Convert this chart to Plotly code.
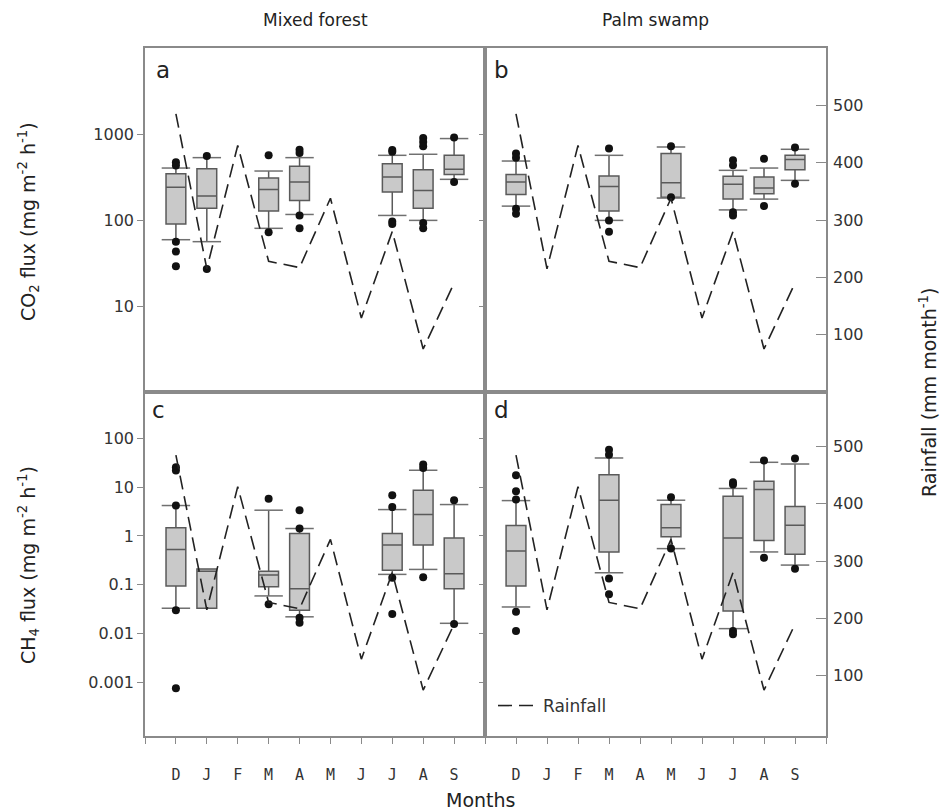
import plotly.graph_objects as go

months = ["D", "J", "F", "M", "A", "M", "J", "J", "A", "S"]
rainfall = [485, 215, 430, 228, 217, 338, 129, 280, 75, 190]

# Panel a: CO2 flux, mixed forest
mf_co2_pos = [0, 1, 3, 4, 7, 8, 9]
mf_co2_low = [59, 56, 80, 116, 113, 99, 297]
mf_co2_q1 = [90, 137, 127, 169, 211, 137, 337]
mf_co2_med = [241, 190, 227, 276, 316, 221, 388]
mf_co2_q3 = [346, 395, 307, 421, 452, 385, 565]
mf_co2_high = [402, 531, 371, 531, 565, 581, 885]
mf_co2_out_x = [0, 0, 0, 0, 0, 1, 1, 3, 3, 4, 4, 4, 4, 7, 7, 7, 7, 8, 8, 8, 8, 8, 9, 9]
mf_co2_out_y = [470, 430, 56, 43, 29, 555, 27, 565, 72, 658, 601, 113, 80,
                650, 620, 96, 90, 900, 808, 720, 92, 80, 908, 276]

# Panel b: CO2 flux, palm swamp
ps_co2_pos = [0, 3, 5, 7, 8, 9]
ps_co2_low = [145, 99, 180, 131, 175, 289]
ps_co2_q1 = [198, 127, 184, 175, 202, 385]
ps_co2_med = [276, 246, 272, 260, 235, 504]
ps_co2_q3 = [339, 324, 592, 322, 316, 565]
ps_co2_high = [485, 565, 706, 378, 402, 664]
ps_co2_out_x = [0, 0, 0, 0, 3, 3, 3, 5, 5, 7, 7, 7, 7, 8, 8, 9, 9]
ps_co2_out_y = [592, 531, 135, 118, 676, 99, 73, 720, 184, 494, 432, 123, 113, 517, 145, 695, 264]

# Panel c: CH4 flux, mixed forest
mf_ch4_pos = [0, 1, 3, 4, 7, 8, 9]
mf_ch4_low = [0.033, 0.033, 0.059, 0.022, 0.163, 0.206, 0.0162]
mf_ch4_q1 = [0.094, 0.033, 0.091, 0.030, 0.197, 0.65, 0.083]
mf_ch4_med = [0.53, 0.19, 0.158, 0.083, 0.65, 2.75, 0.168]
mf_ch4_q3 = [1.47, 0.21, 0.19, 1.12, 1.12, 8.6, 0.91]
mf_ch4_high = [4.2, 0.21, 3.37, 1.42, 3.47, 22.2, 4.4]
mf_ch4_out_x = [0, 0, 0, 0, 0, 3, 3, 4, 4, 4, 4, 7, 7, 7, 7, 8, 8, 8, 9, 9]
mf_ch4_out_y = [25.5, 22, 4.2, 0.030, 0.00076, 5.8, 0.040, 3.37, 1.42, 0.021, 0.0167,
                6.8, 3.9, 0.139, 0.025, 29, 24.7, 0.143, 5.4, 0.0157]

# Panel d: CH4 flux, palm swamp
ps_ch4_pos = [0, 3, 5, 7, 8, 9]
ps_ch4_low = [0.035, 0.176, 0.55, 0.0126, 0.47, 0.253]
ps_ch4_q1 = [0.094, 0.47, 0.96, 0.029, 0.81, 0.42]
ps_ch4_med = [0.49, 5.4, 1.47, 0.91, 8.9, 1.66]
ps_ch4_q3 = [1.64, 18, 4.4, 6.5, 13.2, 4.0]
ps_ch4_high = [5.3, 39.6, 5.4, 9.4, 32.3, 29.8]
ps_ch4_out_x = [0, 0, 0, 0, 0, 3, 3, 3, 3, 5, 5, 7, 7, 7, 7, 8, 8, 9, 9]
ps_ch4_out_y = [17.5, 8.2, 5.6, 0.028, 0.0113, 58.6, 46, 0.135, 0.0636, 6.2, 0.55,
                12.6, 11.3, 0.0113, 0.0097, 35, 0.356, 38.5, 0.212]

co2_ticks = [10, 100, 1000]
ch4_ticks = [0.001, 0.01, 0.1, 1, 10, 100]
ch4_ticktext = ["0.001", "0.01", "0.1", "1", "10", "100"]
rain_ticks = [100, 200, 300, 400, 500]

BOX_FILL = "#c9c9c9"
BOX_LINE = "#5a5a5a"
BORDER = "#8a8a8a"
FONT = "DejaVu Sans"
CAP_HALF = 0.46

fig = go.Figure()

panels = [
    ("x", "y", "y5", mf_co2_pos, mf_co2_low, mf_co2_q1, mf_co2_med, mf_co2_q3, mf_co2_high, mf_co2_out_x, mf_co2_out_y),
    ("x2", "y2", "y6", ps_co2_pos, ps_co2_low, ps_co2_q1, ps_co2_med, ps_co2_q3, ps_co2_high, ps_co2_out_x, ps_co2_out_y),
    ("x3", "y3", "y7", mf_ch4_pos, mf_ch4_low, mf_ch4_q1, mf_ch4_med, mf_ch4_q3, mf_ch4_high, mf_ch4_out_x, mf_ch4_out_y),
    ("x4", "y4", "y8", ps_ch4_pos, ps_ch4_low, ps_ch4_q1, ps_ch4_med, ps_ch4_q3, ps_ch4_high, ps_ch4_out_x, ps_ch4_out_y),
]

for k, (xa, ya, ra, pos, low, q1, med, q3, high, ox, oy) in enumerate(panels):
    # rainfall dashed line
    fig.add_trace(go.Scatter(
        x=list(range(len(months))), y=rainfall, xaxis=xa, yaxis=ra,
        mode="lines", line=dict(color="#222222", width=1.6, dash="14px,7px"),
        name="Rainfall", showlegend=(k == 3), hoverinfo="skip"))
    # boxes
    fig.add_trace(go.Box(
        x=pos, q1=q1, median=med, q3=q3, lowerfence=low, upperfence=high,
        xaxis=xa, yaxis=ya, width=0.64, whiskerwidth=0,
        fillcolor=BOX_FILL, line=dict(color=BOX_LINE, width=1.5),
        showlegend=False, hoverinfo="skip"))
    # whisker caps (wider than the boxes)
    cx, cy = [], []
    for p, lo, a, b, hi in zip(pos, low, q1, q3, high):
        if hi != b:
            cx += [p - CAP_HALF, p + CAP_HALF, None]
            cy += [hi, hi, None]
        if lo != a:
            cx += [p - CAP_HALF, p + CAP_HALF, None]
            cy += [lo, lo, None]
    fig.add_trace(go.Scatter(
        x=cx, y=cy, xaxis=xa, yaxis=ya, mode="lines",
        line=dict(color="#707070", width=1.5), showlegend=False, hoverinfo="skip"))
    # outliers
    fig.add_trace(go.Scatter(
        x=ox, y=oy, xaxis=xa, yaxis=ya, mode="markers",
        marker=dict(color="#111111", size=8), showlegend=False, hoverinfo="skip"))

W, H = 941, 812
xl = [145 / W, 485 / W]
xr = [485 / W, 826 / W]
yt = [1 - 392 / H, 1 - 48 / H]
yb = [1 - 736 / H, 1 - 392 / H]

tickfont = dict(family=FONT, size=16, color="#333333")
monthfont = dict(family="DejaVu Sans Mono", size=15, color="#333333")

def xaxis(domain, anchor, bottom):
    d = dict(domain=domain, anchor=anchor, range=[-1, 10], showgrid=False, zeroline=False,
             showline=True, mirror=True, linecolor=BORDER, linewidth=1.5)
    if bottom:
        d.update(tickmode="array", tickvals=list(range(-1, 11)),
                 ticktext=[""] + months + [""], ticks="outside", ticklen=6,
                 tickcolor=BORDER, tickwidth=1.2, tickfont=monthfont,
                 ticklabelstandoff=18)
    else:
        d.update(showticklabels=False, ticks="")
    return d

def yaxis(domain, anchor, rng, tv, tt, labels):
    return dict(domain=domain, anchor=anchor, type="log", range=rng, showgrid=False,
                zeroline=False, showline=True, mirror=True, linecolor=BORDER, linewidth=1.5,
                tickmode="array", tickvals=tv, ticktext=tt, ticks="outside",
                ticklen=6 if labels else 4, tickcolor=BORDER, tickwidth=1.2,
                showticklabels=labels, tickfont=tickfont)

def raxis(over, anchor, rng, visible):
    d = dict(overlaying=over, anchor=anchor, side="right", range=rng, showgrid=False,
             zeroline=False, showline=False)
    if visible:
        d.update(tickmode="array", tickvals=rain_ticks, ticks="inside", ticklen=10,
                 tickcolor=BORDER, tickwidth=1.2, tickfont=tickfont, ticklabelstandoff=6)
    else:
        d.update(visible=False)
    return d

co2_tt = [str(v) for v in co2_ticks]

fig.update_layout(
    width=W, height=H, margin=dict(l=0, r=0, t=0, b=0),
    paper_bgcolor="white", plot_bgcolor="white",
    font=dict(family=FONT, color="#333333"),
    xaxis=xaxis(xl, "y", False),
    xaxis2=xaxis(xr, "y2", False),
    xaxis3=xaxis(xl, "y3", True),
    xaxis4=xaxis(xr, "y4", True),
    yaxis=yaxis(yt, "x", [0, 4], co2_ticks, co2_tt, True),
    yaxis2=yaxis(yt, "x2", [0, 4], co2_ticks, co2_tt, False),
    yaxis3=yaxis(yb, "x3", [-4.1, 2.95], ch4_ticks, ch4_ticktext, True),
    yaxis4=yaxis(yb, "x4", [-4.1, 2.95], ch4_ticks, ch4_ticktext, False),
    yaxis5=raxis("y", "x", [0, 600], False),
    yaxis6=raxis("y2", "x2", [0, 600], True),
    yaxis7=raxis("y3", "x3", [-5, 595], False),
    yaxis8=raxis("y4", "x4", [-5, 595], True),
    legend=dict(x=493 / W, y=1 - 706 / H, xanchor="left", yanchor="middle",
                bgcolor="rgba(0,0,0,0)", font=dict(family=FONT, size=17, color="#333333"),
                itemwidth=40),
)

ann = [
    dict(text="Mixed forest", x=315 / W, y=1 - 20 / H, size=17),
    dict(text="Palm swamp", x=655 / W, y=1 - 20 / H, size=17),
    dict(text="a", x=163 / W, y=1 - 70 / H, size=23),
    dict(text="b", x=501 / W, y=1 - 70 / H, size=23),
    dict(text="c", x=158 / W, y=1 - 410 / H, size=23),
    dict(text="d", x=501 / W, y=1 - 410 / H, size=23),
    dict(text="Months", x=480 / W, y=1 - 800 / H, size=19),
]
for a in ann:
    fig.add_annotation(text=a["text"], x=a["x"], y=a["y"], xref="paper", yref="paper",
                       showarrow=False, xanchor="center", yanchor="middle",
                       font=dict(family=FONT, size=a["size"], color="#222222"))

for text, x, y in [
    ("CO<sub>2</sub> flux (mg m<sup>-2</sup> h<sup>-1</sup>)", 28 / W, 1 - 222 / H),
    ("CH<sub>4</sub> flux (mg m<sup>-2</sup> h<sup>-1</sup>)", 28 / W, 1 - 565 / H),
    ("Rainfall (mm month<sup>-1</sup>)", 928 / W, 1 - 392 / H),
]:
    fig.add_annotation(text=text, x=x, y=y, xref="paper", yref="paper", showarrow=False,
                       textangle=-90, xanchor="center", yanchor="middle",
                       font=dict(family=FONT, size=19, color="#222222"))

fig.write_html("out.html")
